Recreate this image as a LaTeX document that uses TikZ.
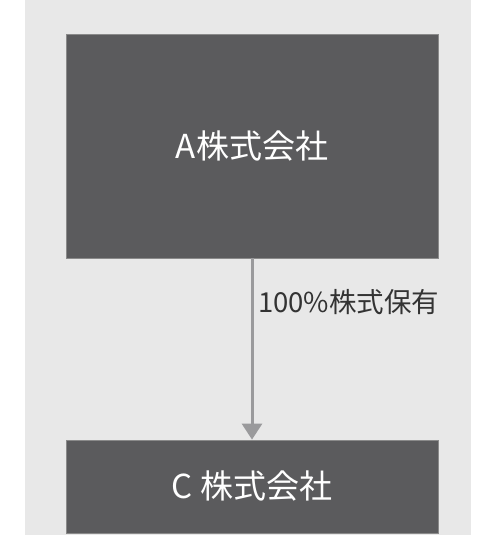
\documentclass[tikz,border=0pt]{standalone}
\usepackage{fontspec}
\setmainfont{Noto Sans CJK JP}
\usetikzlibrary{arrows.meta,positioning}
\definecolor{boxgray}{HTML}{5B5B5D}
\definecolor{edgegray}{HTML}{8A8A8A}
\definecolor{paper}{HTML}{E8E8E8}
\definecolor{arrowgray}{HTML}{9A9A9C}
\definecolor{labelgray}{HTML}{333333}

\tikzset{
  company/.style={draw=edgegray, line width=0.8pt, fill=boxgray, text=white,
    minimum width=372pt, inner sep=0pt, font=\fontsize{33}{33}\selectfont},
  holding/.style={arrowgray, line width=3pt, -{Triangle[width=20pt,length=16pt]}},
}

\begin{document}
\begin{tikzpicture}[x=1pt,y=-1pt]

\useasboundingbox (0,0) rectangle (496,535);
\fill[white] (0,0) rectangle (496,535);
\fill[paper] (25,0) rectangle (471,535);

\node[company, minimum height=224pt] (A) at (252,146) {A株式会社};
\node[company, minimum height=93pt] (C) at (252,486.5) {C 株式会社};

\draw[holding] (A.south) -- (C.north);
\node[anchor=west, text=labelgray, font=\fontsize{27.5}{27.5}\selectfont, inner sep=0pt] (share) at (258,302) {100\%株式保有};

\end{tikzpicture}
\end{document}
